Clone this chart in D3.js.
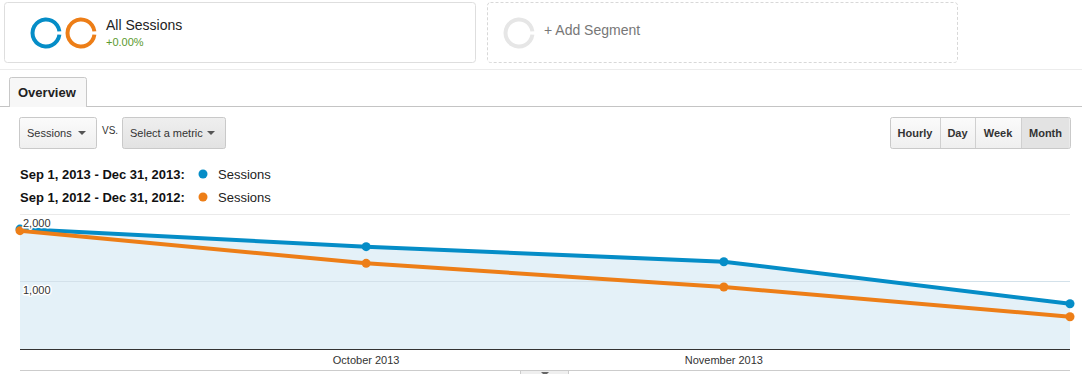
<!DOCTYPE html>
<html>
<head>
<meta charset="UTF-8">
<script src="https://d3js.org/d3.v7.min.js"></script>
<style>
  body { margin: 0; background: #fff; font-family: "Liberation Sans", Arial, sans-serif; }
  svg text { font-family: "Liberation Sans", Arial, sans-serif; }
  .halo { paint-order: stroke; stroke: #fff; stroke-width: 3px; stroke-linejoin: round; }
</style>
</head>
<body>
<svg id="chart" width="1082" height="374"></svg>
<script>
// data
var months = ["2013-09-01", "2013-10-01", "2013-11-01", "2013-12-01"];
var sessions2013 = [1790, 1527, 1303, 676];
var sessions2012 = [1766, 1279, 925, 482];
var yTicks = [1000, 2000];
var xTickMonths = ["2013-10-01", "2013-11-01"];
var rangeLabels = ["Sep 1, 2013 - Dec 31, 2013:", "Sep 1, 2012 - Dec 31, 2012:"];
var intervals = ["Hourly", "Day", "Week", "Month"];

var blue = "#058dc7", orange = "#ed7e17";
var parse = d3.timeParse("%Y-%m-%d");
var svg = d3.select("#chart");

// ---- segment boxes ----
svg.append("rect").attr("x", 4.5).attr("y", 2.5).attr("width", 471).attr("height", 60)
  .attr("rx", 3).attr("fill", "#fff").attr("stroke", "#dedede");
svg.append("rect").attr("x", 487.5).attr("y", 2.5).attr("width", 470).attr("height", 60)
  .attr("rx", 3).attr("fill", "#fff").attr("stroke", "#d8d8d8").attr("stroke-dasharray", "3,2");

// rings with small gap on the right
var ringArc = d3.arc().innerRadius(11.5).outerRadius(15.5)
  .startAngle(Math.PI / 2 + 0.12).endAngle(Math.PI / 2 + 2 * Math.PI - 0.12);
[[46, blue], [81, orange], [519, "#e6e6e6"]].forEach(function(r) {
  svg.append("path").attr("d", ringArc).attr("transform", "translate(" + r[0] + ",33)").attr("fill", r[1]);
});
svg.append("text").attr("x", 106).attr("y", 30).attr("font-size", 14).attr("fill", "#222").text("All Sessions");
svg.append("text").attr("x", 106).attr("y", 46).attr("font-size", 11).attr("fill", "#5b9a2e").text("+0.00%");
svg.append("text").attr("x", 544).attr("y", 35).attr("font-size", 14).attr("fill", "#777").text("+ Add Segment");

// separator + tab
svg.append("line").attr("x1", 0).attr("x2", 1082).attr("y1", 69.5).attr("y2", 69.5).attr("stroke", "#ececec");
svg.append("line").attr("x1", 0).attr("x2", 1082).attr("y1", 106.5).attr("y2", 106.5).attr("stroke", "#c4c4c4");
svg.append("path").attr("d", "M9.5,107 V79.5 Q9.5,77.5 11.5,77.5 H84.5 Q86.5,77.5 86.5,79.5 V107")
  .attr("fill", "#f7f7f7").attr("stroke", "#c8c8c8");
svg.append("text").attr("x", 18).attr("y", 97).attr("font-size", 13).attr("font-weight", "bold").attr("fill", "#222").text("Overview");

// ---- dropdowns ----
var defs = svg.append("defs");
var g1 = defs.append("linearGradient").attr("id", "btn").attr("x1", 0).attr("x2", 0).attr("y1", 0).attr("y2", 1);
g1.append("stop").attr("offset", 0).attr("stop-color", "#fbfbfb");
g1.append("stop").attr("offset", 1).attr("stop-color", "#efefef");
var g2 = defs.append("linearGradient").attr("id", "btnDark").attr("x1", 0).attr("x2", 0).attr("y1", 0).attr("y2", 1);
g2.append("stop").attr("offset", 0).attr("stop-color", "#efefef");
g2.append("stop").attr("offset", 1).attr("stop-color", "#e2e2e2");

function dropdown(x, w, label, fill) {
  svg.append("rect").attr("x", x + 0.5).attr("y", 117.5).attr("width", w).attr("height", 31)
    .attr("rx", 2).attr("fill", fill).attr("stroke", "#c9c9c9");
  svg.append("text").attr("x", x + 8).attr("y", 137).attr("font-size", 11).attr("fill", "#333").text(label);
  var tx = x + w - 14;
  svg.append("path").attr("d", "M" + (tx - 4) + ",131 H" + (tx + 4) + " L" + tx + ",135 Z").attr("fill", "#555");
}
dropdown(19, 77, "Sessions", "url(#btn)");
svg.append("text").attr("x", 102).attr("y", 134).attr("font-size", 10).attr("fill", "#333").text("VS.");
dropdown(122, 103, "Select a metric", "url(#btnDark)");

// interval buttons
var btnW = [50, 35, 46, 49];
var bx = 890;
svg.append("rect").attr("x", 890.5).attr("y", 117.5).attr("width", 180).attr("height", 31)
  .attr("rx", 2).attr("fill", "url(#btn)").attr("stroke", "#c9c9c9");
intervals.forEach(function(name, i) {
  if (i === 3) {
    svg.append("rect").attr("x", bx + 0.5).attr("y", 118).attr("width", btnW[i] - 1).attr("height", 30)
      .attr("fill", "#e3e3e3");
  }
  if (i > 0) {
    svg.append("line").attr("x1", bx + 0.5).attr("x2", bx + 0.5).attr("y1", 118).attr("y2", 148).attr("stroke", "#d0d0d0");
  }
  svg.append("text").attr("x", bx + btnW[i] / 2).attr("y", 137).attr("text-anchor", "middle")
    .attr("font-size", 11).attr("font-weight", "bold").attr("fill", "#333").text(name);
  bx += btnW[i];
});

// legend
[[blue, 0], [orange, 1]].forEach(function(l) {
  var y = 179 + l[1] * 23;
  svg.append("text").attr("x", 20).attr("y", y).attr("font-size", 13).attr("font-weight", "bold").attr("fill", "#111").text(rangeLabels[l[1]]);
  svg.append("circle").attr("cx", 203).attr("cy", y - 5).attr("r", 4.5).attr("fill", l[0]);
  svg.append("text").attr("x", 218).attr("y", y).attr("font-size", 13).attr("fill", "#222").text("Sessions");
});

// ---- chart ----
var x = d3.scaleTime().domain([parse(months[0]), parse(months[3])]).range([20, 1070]);
var y = d3.scaleLinear().domain([0, 2000]).range([349, 215]);

var d13 = months.map(function(m, i) { return { d: parse(m), v: sessions2013[i] }; });
var d12 = months.map(function(m, i) { return { d: parse(m), v: sessions2012[i] }; });

// gridlines
svg.append("g").selectAll("line").data(yTicks).join("line")
  .attr("x1", 20).attr("x2", 1070)
  .attr("y1", function(d) { return Math.round(y(d)) - 0.5; })
  .attr("y2", function(d) { return Math.round(y(d)) - 0.5; })
  .attr("stroke", "#eaeaea");

var area = d3.area().x(function(d) { return x(d.d); }).y0(y(0)).y1(function(d) { return y(d.v); });
svg.append("path").datum(d13).attr("d", area).attr("fill", "#e4f1f8");

// gridline over the area
svg.append("line").attr("x1", 20).attr("x2", 1070).attr("y1", Math.round(y(1000)) - 0.5).attr("y2", Math.round(y(1000)) - 0.5)
  .attr("stroke", "#d3e1ea");

var line = d3.line().x(function(d) { return x(d.d); }).y(function(d) { return y(d.v); });
[[d13, blue], [d12, orange]].forEach(function(s) {
  svg.append("path").datum(s[0]).attr("d", line).attr("fill", "none").attr("stroke", s[1]).attr("stroke-width", 4);
  svg.append("g").selectAll("circle").data(s[0]).join("circle")
    .attr("cx", function(d) { return x(d.d); }).attr("cy", function(d) { return y(d.v); })
    .attr("r", 4.5).attr("fill", s[1]);
});

// y labels
svg.append("g").selectAll("text").data(yTicks).join("text")
  .attr("class", "halo")
  .attr("x", 23).attr("y", function(d) { return y(d) + 12; })
  .attr("font-size", 11).attr("fill", "#333")
  .text(d3.format(","));

// baseline and x axis
svg.append("line").attr("x1", 20).attr("x2", 1070).attr("y1", 349.5).attr("y2", 349.5).attr("stroke", "#333");
svg.append("g").selectAll("text").data(xTickMonths).join("text")
  .attr("x", function(d) { return x(parse(d)); }).attr("y", 364)
  .attr("text-anchor", "middle").attr("font-size", 11).attr("fill", "#333")
  .text(function(d) { return d3.timeFormat("%B %Y")(parse(d)); });
svg.append("line").attr("x1", 20).attr("x2", 1070).attr("y1", 370.5).attr("y2", 370.5).attr("stroke", "#ccc");
svg.append("rect").attr("x", 520.5).attr("y", 370.5).attr("width", 48).attr("height", 6).attr("fill", "#efefef").attr("stroke", "#ccc");
svg.append("path").attr("d", "M541,372 H549 L545,376 Z").attr("fill", "#666");
</script>
</body>
</html>
